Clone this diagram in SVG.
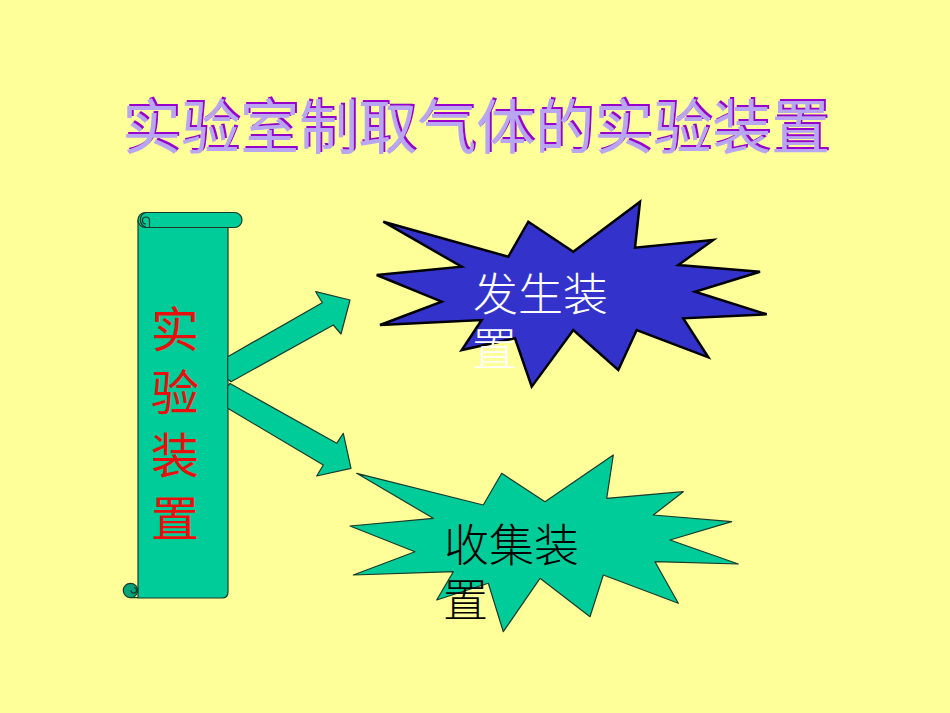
<svg xmlns="http://www.w3.org/2000/svg" width="950" height="713" viewBox="0 0 950 713">
<defs>
<filter id="emboss" x="-5%" y="-20%" width="110%" height="140%">
<feOffset in="SourceAlpha" dx="2" dy="-2" result="off"/>
<feFlood flood-color="#9900CC"/>
<feComposite in2="off" operator="in" result="shadow"/>
<feMerge><feMergeNode in="shadow"/><feMergeNode in="SourceGraphic"/></feMerge>
</filter>
</defs>
<style>
.cjk{font-family:"Noto Sans CJK SC","Noto Sans CJK JP",sans-serif}
.title{font-size:59px;text-anchor:middle;font-weight:400}
.green{fill:#00CC99;stroke:#1a3a2a;stroke-width:1.2;stroke-linejoin:round}
.side{font-size:48px;fill:#E8100C;writing-mode:vertical-rl;letter-spacing:15px}
.label{font-size:45px}
</style>
<rect width="950" height="713" fill="#FFFF99"/>
<g id="title">
<text class="cjk title" x="476" y="149" fill="#B9A6F2" filter="url(#emboss)">实验室制取气体的实验装置</text>
</g>
<g id="scroll">
<path class="green" d="M138,220 L138,598 L222,598 Q228,598 228,592 L228,227 Z"/>
<rect class="green" x="138" y="212.5" width="104" height="15" rx="7.5"/>
<path d="M146,227 A7.5,7.5 0 0 1 146,212.5 M146,224 A3.5,3.5 0 1 1 149.5,220.5 L149.5,227" fill="none" stroke="#1a3a2a" stroke-width="1.2"/>
<circle cx="130.5" cy="590.5" r="7.2" fill="#00A57C" stroke="#1a3a2a" stroke-width="1.2"/>
<path d="M131,590.5 A2.8,2.8 0 1 0 134,587.5 M130.5,597.7 L138,597.7" fill="none" stroke="#1a3a2a" stroke-width="1.2"/>
<text class="cjk side" x="175" y="305">实验装置</text>
</g>
<g id="connectors">
<polygon class="green" points="227.7,356.7 322.3,302.7 315.7,291.7 350,300 341,334 333.3,325 231,381.7 227.7,379"/>
<polygon class="green" points="230,383.5 336.7,443.3 343.3,433.3 351,468.3 316.7,476 323.3,465 227.7,408.3 227.7,386"/>
</g>
<g id="generator">
<polygon points="383.3,221.7 508.3,256.7 528.3,221.7 573.3,251.7 640,201.7 635,247.7 713.3,240 678.3,265 760,271.7 695,291.7 766.7,314.3 683.3,318.3 708.3,357.3 636.7,330 618.3,370 573.3,330 531.7,386.7 515,338.3 461.7,350 481.7,320 380,325 441.7,301.7 376.7,275 461.7,266.7" fill="#3333CC" stroke="#000" stroke-width="2.5" stroke-linejoin="miter"/>
<text class="cjk label" fill="#FFFFFF" font-weight="300"><tspan x="473" y="311">发生装</tspan><tspan x="472" y="366">置</tspan></text>
</g>
<g id="collector">
<polygon class="green" points="356.7,473.3 483.3,505 501.7,473.3 545,501.7 613.3,455 606.7,498.3 683.3,491.7 653.3,515 731.7,521.7 670,540 738.3,564 655,561.7 678.3,603.3 603.3,575 590,616.7 540,578.3 503.3,631.7 488.3,583.3 436.7,600 453.3,571.7 353.3,575 415,551.7 350,526 433.3,518.3"/>
<text class="cjk label" fill="#000000" font-weight="300"><tspan x="444" y="562">收集装</tspan><tspan x="443" y="617">置</tspan></text>
</g>
</svg>
